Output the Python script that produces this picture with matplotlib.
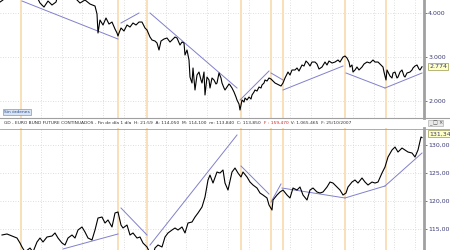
import numpy as np
import matplotlib.pyplot as plt

# === データ（画面から読み取り） ===
# 上段: 指数（x = バー位置）
idx_x = [0, 3, 5, 20, 37, 40, 44, 48, 52, 56, 58, 66, 75, 80, 85, 90, 95, 97, 98, 100,
         103, 106, 109, 112, 115, 117, 118, 119, 121, 124, 127, 130, 133, 136, 139, 142, 145, 147, 150, 152,
         155, 157, 159, 161, 164, 167, 170, 172, 175, 177, 180, 182, 184, 185, 187, 189, 190, 192, 193, 195,
         197, 199, 201, 202, 204, 205, 207, 209, 210, 212, 214, 216, 217, 219, 221, 222, 224, 225, 227, 229,
         230, 232, 234, 236, 237, 239, 240, 242, 244, 245, 247, 249, 251, 252, 254, 255, 257, 259, 261, 262,
         264, 265, 267, 269, 271, 272, 274, 275, 277, 279, 281, 283, 285, 288, 290, 292, 295, 297, 299, 302,
         304, 306, 308, 310, 312, 315, 317, 319, 322, 325, 327, 329, 332, 335, 338, 340, 343, 345, 347, 349,
         350, 352, 353, 355, 357, 359, 362, 364, 367, 370, 373, 375, 378, 380, 383, 384, 386, 387, 388, 390,
         392, 393, 395, 397, 398, 400, 402, 404, 405, 407, 410, 412, 413, 415, 417, 419, 420, 422]
idx_val = [4237, 4283, 4400, 4700, 4350, 4215, 4124, 4260, 4170, 4237, 4400, 4600, 4330, 4215, 4283, 4192, 4147, 3966, 3537, 3831,
           3718, 3876, 3740, 3785, 3627, 3537, 3469, 3537, 3650, 3582, 3718, 3672, 3763, 3718, 3785, 3785, 3650, 3605, 3446, 3379,
           3356, 3311, 3153, 3356, 3401, 3424, 3333, 3379, 3446, 3424, 3266, 3333, 3311, 3040, 3153, 2927, 2542, 2407, 2746, 2249,
           2588, 2655, 2475, 2407, 2655, 2136, 2542, 2475, 2294, 2520, 2475, 2384, 2407, 2633, 2520, 2407, 2294, 2249, 2316, 2384,
           2362, 2294, 2204, 2090, 2023, 1932, 1797, 2023, 1977, 2068, 2023, 2090, 2045, 2136, 2204, 2249, 2226, 2316, 2294, 2362,
           2407, 2475, 2452, 2520, 2497, 2475, 2430, 2407, 2384, 2362, 2339, 2407, 2520, 2655, 2588, 2701, 2701, 2746, 2678, 2814,
           2791, 2904, 2859, 2791, 2881, 2881, 2836, 2723, 2768, 2881, 2814, 2904, 2859, 2881, 2927, 2881, 2994, 3017, 2972, 2881,
           2768, 2814, 2655, 2701, 2768, 2701, 2768, 2836, 2881, 2859, 2927, 2881, 2881, 2836, 2768, 2655, 2475, 2701, 2655, 2565,
           2520, 2633, 2655, 2520, 2542, 2655, 2701, 2565, 2542, 2633, 2655, 2701, 2746, 2791, 2814, 2723, 2701, 2774]

# 下段: EURO BUND FUTURE
bund_x = [2, 7, 12, 17, 20, 22, 25, 30, 33, 37, 40, 43, 47, 52, 55, 58, 62, 65, 68, 72,
          75, 78, 82, 85, 88, 92, 95, 98, 102, 105, 108, 112, 115, 118, 121, 123, 127, 130, 133, 137,
          140, 143, 147, 150, 153, 155, 158, 162, 165, 168, 172, 175, 178, 182, 185, 188, 192, 195, 198, 202,
          205, 208, 210, 213, 217, 220, 223, 225, 228, 232, 235, 238, 241, 243, 247, 250, 253, 257, 260, 263,
          267, 269, 272, 273, 277, 280, 283, 287, 290, 293, 297, 300, 303, 307, 310, 313, 317, 320, 323, 327,
          330, 333, 337, 340, 343, 346, 348, 352, 355, 358, 362, 365, 368, 372, 375, 378, 382, 385, 388, 392,
          395, 398, 402, 405, 408, 412, 415, 418, 421, 422]
bund_val = [113.93, 114.11, 113.75, 113.39, 112.50, 111.79, 110.90, 111.60, 110.90, 112.68, 113.39, 112.68, 113.57, 113.75, 114.29, 113.39, 112.50, 112.14, 113.39, 113.93,
            113.39, 114.82, 115.36, 114.46, 113.39, 113.04, 114.82, 116.96, 117.14, 116.07, 116.61, 115.36, 117.86, 118.04, 115.71, 115.18, 115.71, 113.93, 114.29, 113.39,
            113.57, 112.50, 111.79, 110.71, 110.36, 111.61, 112.14, 111.79, 113.57, 114.29, 114.82, 115.18, 114.82, 115.36, 114.29, 116.07, 116.25, 117.14, 117.86, 118.93,
            120.71, 123.75, 124.64, 123.21, 125.18, 125.00, 125.54, 123.21, 121.96, 125.18, 125.89, 125.00, 124.29, 125.18, 124.29, 123.39, 122.86, 122.32, 121.43, 121.07,
            120.54, 119.29, 118.39, 120.18, 121.07, 121.61, 121.96, 121.07, 120.54, 122.32, 121.96, 122.50, 121.07, 120.18, 121.96, 122.32, 121.61, 121.43, 121.61, 122.50,
            123.39, 123.21, 122.50, 121.96, 121.07, 121.43, 122.50, 123.39, 123.75, 123.21, 124.11, 123.39, 122.86, 123.39, 123.21, 123.39, 125.00, 126.07, 127.86, 129.11,
            129.64, 128.75, 129.46, 129.11, 128.75, 128.57, 127.86, 129.11, 131.43, 131.34]

# トレンドライン (x0, y0, x1, y1)
idx_trends = [(22, 4260, 118, 3401), (121, 3763, 139, 3989), (150, 3989, 237, 2294),
              (240, 2023, 269, 2678), (271, 2633, 283, 2475), (283, 2249, 343, 2791),
              (346, 2633, 385, 2294), (385, 2294, 422, 2633)]
bund_trends = [(63, 111.43, 118, 114.11), (121, 118.75, 147, 113.93), (150, 112.14, 237, 131.79),
               (241, 126.25, 269, 121.25), (271, 119.82, 281, 123.04), (282, 122.32, 345, 120.54),
               (345, 120.54, 385, 122.68), (385, 122.68, 422, 128.57)]

marker_x = [21, 118, 147, 241, 271, 283, 345, 386]
grid_x = [20 + 20.8 * k for k in range(20)]

idx_ticks = [2000, 3000, 4000]
idx_labels = ["2.000", "3.000", "4.000"]
bund_ticks = [115, 120, 125, 130]
bund_labels = ["115,00", "120,00", "125,00", "130,00"]

W, H = 450, 250
fig = plt.figure(figsize=(4.5, 2.5), dpi=100)
plt.rcParams['font.family'] = ['DejaVu Sans']

ax_w = 424 / W
ax1 = fig.add_axes([0, 132 / H, ax_w, 118 / H])
ax2 = fig.add_axes([0, 0, ax_w, 122 / H])

trend_col = "#8080cc"
orange = "#f9e0ba"
label_col = "#3c3c78"

def setup(ax, ylim, ticks, labels):
    ax.set_xlim(0, 424)
    ax.set_ylim(*ylim)
    for gx in grid_x:
        ax.axvline(gx, color="#d4d4d4", lw=0.6, ls=(0, (1, 2)), zorder=0)
    for t in ticks:
        ax.axhline(t, color="#d4d4d4", lw=0.6, ls=(0, (1, 2)), zorder=0)
    for mx in marker_x:
        ax.axvline(mx, color=orange, lw=1.4, zorder=1)
    ax.yaxis.tick_right()
    ax.set_yticks(ticks)
    ax.set_yticklabels(labels)
    ax.tick_params(axis="y", labelsize=4.5, colors=label_col, length=2, width=0.5, pad=1)
    ax.set_xticks([])
    for s in ["left", "top", "bottom"]:
        ax.spines[s].set_visible(False)
    ax.spines["right"].set_color("#a0a0a0")
    ax.spines["right"].set_linewidth(2.0)

setup(ax1, (1616, 4283), idx_ticks, idx_labels)
setup(ax2, (111.25, 133.04), bund_ticks, bund_labels)

ax1.plot(idx_x, idx_val, color="black", lw=0.8, zorder=3)
ax2.plot(bund_x, bund_val, color="black", lw=0.8, zorder=3)
for x0, y0, x1, y1 in idx_trends:
    ax1.plot([x0, x1], [y0, y1], color=trend_col, lw=0.7, zorder=2)
for x0, y0, x1, y1 in bund_trends:
    ax2.plot([x0, x1], [y0, y1], color=trend_col, lw=0.7, zorder=2)

# 最終値ボックス
box = dict(boxstyle="square,pad=0.15", fc="#ffffc8", ec="#9a9a50", lw=0.5)
ax1.text(1.012, (idx_val[-1] - 1616) / (4283 - 1616), "2.774", transform=ax1.transAxes,
         fontsize=4.5, color=label_col, va="center", ha="left", bbox=box, zorder=5, clip_on=False)
ax2.text(1.012, (bund_val[-1] - 111.25) / (133.04 - 111.25) + 0.03, "131,34", transform=ax2.transAxes,
         fontsize=4.5, color=label_col, va="center", ha="left", bbox=box, zorder=5, clip_on=False)

# Sin órdenes ボタン
ax1.text(4, 1616 + (4283 - 1616) * 0.035, "Sin órdenes", fontsize=3.2, color="#2a4a8a",
         va="bottom", ha="left",
         bbox=dict(boxstyle="square,pad=0.25", fc="#d8e4f4", ec="#7a9ac8", lw=0.5), zorder=6)

# タイトルバー
fig.add_artist(plt.Line2D([0, 1], [1 - 118 / H, 1 - 118 / H], color="#a0a0a0", lw=0.8))
fig.add_artist(plt.Line2D([0, 1], [1 - 128.5 / H, 1 - 128.5 / H], color="#a0a0a0", lw=0.6))
ty = 1 - 123 / H
t1 = fig.text(4 / W, ty, "GD - EURO BUND FUTURE CONTINUADOS - Fin de día 1 día  H: 21:59  A: 114,050  M: 114,100  m: 113,840  C: 113,850  ",
              fontsize=3.2, color="#303030", va="center", ha="left")
fig.canvas.draw()
bb = t1.get_window_extent()
x2 = bb.x1 / fig.dpi / 4.5
t2 = fig.text(x2, ty, "F : 159,470", fontsize=3.2, color="#d02020", va="center", ha="left")
bb2 = t2.get_window_extent()
fig.text(bb2.x1 / fig.dpi / 4.5, ty, "  V: 1.065.465  F: 25/10/2007", fontsize=3.2,
         color="#303030", va="center", ha="left")
fig.text(443 / W, ty, "_ □ ×", fontsize=3.5, color="#404040", va="center", ha="right",
         bbox=dict(boxstyle="square,pad=0.1", fc="#e8e8e8", ec="#a0a0a0", lw=0.4))

fig.savefig("out.png", dpi=100)
